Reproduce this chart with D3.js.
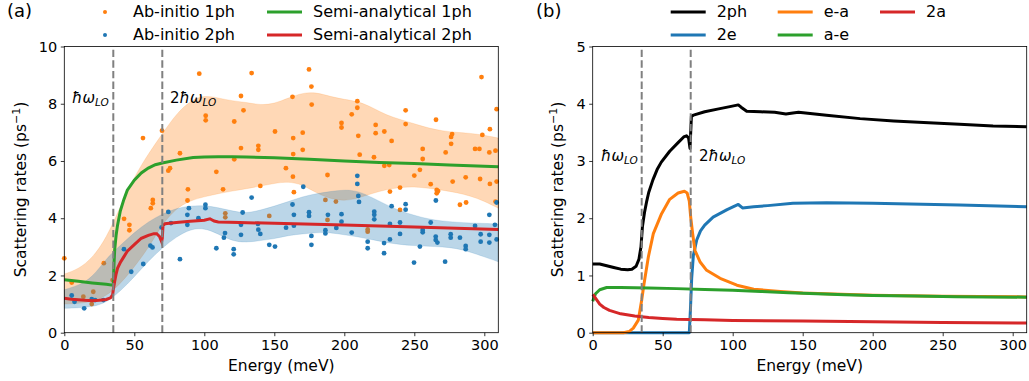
<!DOCTYPE html>
<html>
<head>
<meta charset="utf-8">
<script src="https://cdn.jsdelivr.net/npm/d3@7"></script>
<style>
  body { margin: 0; background: white; }
  svg { font-family: "DejaVu Sans", sans-serif; }
  .tick text { font-size: 14.5px; fill: #000; font-family: "DejaVu Sans", sans-serif; }
</style>
</head>
<body>
<div id="chart"></div>
<script>
// ---------- panel (a) data ----------
// scattered ab-initio points [energy meV, rate ps^-1]
const abInitio1ph = [
  [0,2.6],[5.3,1.75],[13.6,1.26],[20.7,1.43],[19.6,1.0],[28.2,2.43],[34.5,1.84],
  [42.7,3.98],[46.5,3.77],[46.5,3.58],[56.2,6.8],[61.8,4.35],[63.2,4.64],[63.2,4.52],
  [69.8,7.06],[74.3,5.66],[75.5,5.75],[82.6,6.27],[88.3,5.01],[88,4.62],[96.4,9.05],
  [101,7.58],[101,7.42],[108.6,5.62],[113.4,5.01],[115,4.17],[115,4.03],[121.4,7.38],
  [121.4,6.06],[126.2,8.27],[128,7.77],[126.2,6.45],[133.8,9.07],[138.6,6.53],[138.6,6.39],
  [140,5.13],[146.4,4.08],[150.5,7.03],[158.3,5.75],[163,8.24],[163.5,6.8],[163.5,6.24],
  [163.3,5.45],[164,4.91],[170.3,6.99],[170.3,6.39],[174.8,9.2],[176.5,8.6],[176.7,7.97],
  [186.5,4.64],[188,5.51],[188,3.94],[194,4.58],[198,7.33],[198,7.17],[205.3,7.63],
  [209.3,8.09],[209.3,7.86],[210,6.88],[211,6.22],[216.7,3.61],[216.7,3.53],[221.2,6.13],
  [222.4,7.26],[222.4,6.97],[228.6,7.03],[228.6,5.83],[232.1,5.86],[232.6,4.93],[233.8,6.7],
  [239.8,5.07],[239.8,4.29],[243.8,7.77],[243.8,7.29],[250,5.49],[254,5.69],[256,6.42],
  [256,6.07],[261.7,5.19],[265.5,7.44],[266,4.99],[266,4.87],[267,4.95],[272.4,6.3],
  [276.3,6.84],[276.3,6.6],[277,6.94],[277.4,5.28],[282.6,4.47],[286.7,5.43],[287,4.55],
  [293.4,6.42],[296.5,6.42],[297,5.37],[298,8.93],[298.6,6.91],[303.6,6.3],[304,7.11],
  [304,5.2],[308,6.36],[308.8,7.81],[308.8,5.28],[308,4.58]
];
const abInitio2ph = [
  [5.3,1.3],[7.3,1.08],[14.2,0.85],[19.6,1.17],[22,1.14],[27.9,1.14],[42.6,2.92],
  [47.8,2.13],[56.4,2.4],[61.5,3.04],[63,2.98],[69.5,3.68],[74.3,4.22],[76.2,3.83],
  [82.6,2.57],[87.9,4.12],[87.9,3.77],[89,4.35],[95.8,4.0],[100.8,4.47],[100.8,4.35],
  [108.6,2.95],[114,3.32],[114.8,3.48],[121,2.92],[121,2.74],[126.2,3.77],[126.2,3.42],
  [127.4,4.2],[133.8,4.72],[138.3,3.8],[138.6,3.6],[140,3.45],[146.4,3.07],[150.5,3.01],
  [158.4,3.67],[163,4.48],[164,4.12],[164,3.74],[170.7,5.1],[174.8,4.21],[174.8,4.08],
  [176.5,3.38],[176.5,3.07],[186.5,3.58],[186.5,3.47],[188.3,4.12],[194.3,3.66],[198,4.14],
  [198,3.88],[205.3,3.5],[209.3,5.48],[209.3,5.2],[210,4.78],[210.5,4.57],[216.7,3.18],
  [216.7,2.95],[221.4,4.23],[221.4,4.12],[221.4,3.96],[228.4,3.13],[228.4,2.78],[232.6,3.8],
  [232.6,3.26],[233.8,4.42],[239.8,3.85],[239.8,3.45],[243.8,4.49],[243.8,4.3],[249.8,2.45],
  [254,3.01],[256,3.59],[256,3.51],[261.7,3.85],[265.4,4.62],[265.3,3.36],[265.3,3.24],
  [266.5,3.15],[272,2.48],[276,3.44],[276,3.32],[282.6,3.32],[286.7,3.03],[286.7,2.92],
  [293.4,3.73],[297.4,3.44],[297.4,3.18],[303.6,4.12],[303.6,3.42],[303.6,3.15],[307.6,3.77],
  [308.8,3.26],[308.8,4.55]
];

// shaded bands (energy grid shared)
const bandE = [0,10,20,30,40,50,60,70,80,90,100,110,120,130,140,150,160,170,180,190,200,210,220,230,240,250,260,270,280,290,300,310];
const band1phHi = [2.05,2.22,2.6,3.3,4.4,5.45,6.25,6.95,7.65,8.1,8.3,8.2,8.1,8.05,7.95,8.0,8.2,8.38,8.4,8.25,8.15,8.08,7.87,7.6,7.45,7.3,7.15,7.05,7.0,6.97,6.9,6.8];
const band1phLo = [1.0,1.02,1.08,1.28,1.7,2.3,2.95,3.8,4.35,4.62,4.75,4.86,4.95,5.03,5.12,5.22,5.28,5.18,4.88,4.68,4.6,4.7,4.87,5.0,5.08,5.1,5.05,4.98,4.9,4.78,4.6,4.35];
const band2phHi = [1.5,1.65,1.92,2.6,3.05,3.5,3.88,4.15,4.35,4.43,4.45,4.37,4.25,4.17,4.28,4.42,4.58,4.75,4.86,4.93,5.0,4.95,4.72,4.47,4.25,4.1,3.97,3.9,3.86,3.83,3.82,3.8];
const band2phLo = [0.85,0.87,0.9,1.05,1.45,1.95,2.5,2.97,3.35,3.62,3.66,3.45,3.2,3.15,3.22,3.28,3.4,3.45,3.5,3.5,3.42,3.35,3.25,3.15,3.08,3.04,3.02,3.0,2.95,2.82,2.65,2.48];

// semi-analytical curves
const semi1phE = [0,10,20,30,34.5,35,35.5,36,37,38,40,42.5,45,50,55,60,65,70,80,92,100,110,120,130,150,175,200,225,250,275,300,310];
const semi1phV = [1.85,1.8,1.74,1.69,1.66,1.7,2.4,2.9,3.4,3.75,4.25,4.65,4.98,5.33,5.58,5.75,5.87,5.93,6.03,6.12,6.14,6.15,6.15,6.14,6.11,6.06,6.0,5.95,5.91,5.86,5.82,5.8];
const semi2phE = [0,5,10,15,20,25,30,33,34.5,35,36,37,38,40,42.5,45,50,55,60,64,66,68,69.5,70,70.5,72,80,90,100,104,107,110,125,150,200,250,310];
const semi2phV = [1.2,1.17,1.15,1.13,1.12,1.13,1.16,1.22,1.32,1.5,1.8,2.05,2.25,2.45,2.65,2.85,3.08,3.3,3.4,3.46,3.46,3.36,3.18,3.3,3.74,3.81,3.85,3.89,3.93,3.98,3.9,3.87,3.85,3.82,3.76,3.69,3.61];

// ---------- panel (b) data ----------
const tot2phE = [0,5,10,15,20,25,28,31,33,34.5,35.5,37,38.6,40,43,46,49,55,61,65,67,68.5,69.5,70,70.5,72,80,90,98,104,106,110,120,130,138,143,147,167,191,215,240,262,286,310];
const tot2phV = [1.2,1.2,1.17,1.14,1.11,1.1,1.11,1.16,1.28,1.5,1.85,2.1,2.3,2.45,2.67,2.85,2.98,3.17,3.32,3.42,3.44,3.4,3.22,3.5,3.78,3.8,3.86,3.91,3.95,3.98,3.94,3.87,3.86,3.85,3.82,3.84,3.85,3.8,3.74,3.7,3.67,3.64,3.61,3.6];
const twoEE = [0,69,69.8,70.7,71.9,74.3,77,80,86,96,104,107,115,125,143,167,200,262,310];
const twoEV = [0,0,0.4,0.95,1.35,1.62,1.78,1.88,2.02,2.15,2.24,2.18,2.2,2.22,2.26,2.27,2.26,2.23,2.2];
const eaE = [0,22,26,29,32.6,35,36.7,39.8,43.3,49.2,55,61,65.5,67.5,69,70,71.4,73,76.6,81.4,91,103,115,134,150,200,250,310];
const eaV = [0,0,0.02,0.08,0.22,0.57,0.86,1.33,1.73,2.08,2.33,2.44,2.47,2.44,2.3,2.02,1.73,1.44,1.24,1.09,0.95,0.83,0.76,0.72,0.695,0.655,0.635,0.625];
const aeE = [0,2,5,10,20,40,60,80,100,120,140,160,180,200,230,260,310];
const aeV = [0.55,0.68,0.75,0.79,0.79,0.78,0.77,0.755,0.74,0.72,0.7,0.68,0.665,0.65,0.64,0.63,0.62];
const twoAE = [0,1,3,5,8,12,16,20,30,40,50,60,80,100,150,200,250,310];
const twoAV = [0.67,0.64,0.57,0.5,0.44,0.39,0.36,0.33,0.29,0.265,0.25,0.235,0.225,0.215,0.205,0.19,0.18,0.17];

const xTicks = [0,50,100,150,200,250,300];
const yTicksA = [0,2,4,6,8,10];
const yTicksB = [0,1,2,3,4,5];
const thresholds = [35,70];

const C = {blue:"#1f77b4", orange:"#ff7f0e", green:"#2ca02c", red:"#d62728", black:"#000000"};

const W = 1029, H = 381;
const svg = d3.select("#chart").append("svg").attr("width", W).attr("height", H);

function zip(es, vs){ return es.map((e,i) => [e, vs[i]]); }

function makePanel(left, right, ymax, yTicks, letter, labelY){
  const x = d3.scaleLinear().domain([0,310]).range([left,right]);
  const y = d3.scaleLinear().domain([0,ymax]).range([332.7,46.5]);
  const g = svg.append("g");
  const plot = g.append("g");
  // axes
  g.append("g").attr("transform","translate(0,332.7)")
    .call(d3.axisBottom(x).tickValues(xTicks).tickFormat(d3.format("d")).tickSize(3.5).tickPadding(3.5))
    .call(a => a.select(".domain").remove())
    .attr("font-family", null).attr("font-size", null);
  g.append("g").attr("transform",`translate(${left},0)`)
    .call(d3.axisLeft(y).tickValues(yTicks).tickFormat(d3.format("d")).tickSize(3.5).tickPadding(3.5))
    .call(a => a.select(".domain").remove())
    .attr("font-family", null).attr("font-size", null);
  g.selectAll(".tick line").attr("stroke","#000").attr("stroke-width",0.8);
  g.append("rect").attr("x",left).attr("y",46.5).attr("width",right-left).attr("height",332.7-46.5)
    .attr("fill","none").attr("stroke","#000").attr("stroke-width",0.8);
  g.append("text").attr("x",(left+right)/2).attr("y",371).attr("text-anchor","middle")
    .attr("font-size",15.5).text("Energy (meV)");
  const yl = g.append("text").attr("transform",`translate(${labelY},189.5) rotate(-90)`)
    .attr("text-anchor","middle").attr("font-size",15.5);
  yl.append("tspan").text("Scattering rates (ps");
  yl.append("tspan").attr("font-size",11).attr("dy",-6).text("\u22121");
  yl.append("tspan").attr("dy",6).text(")");
  g.append("text").attr("x", letter.x).attr("y",17).attr("font-size",18).text(letter.t);
  return {x, y, plot, g};
}

function hbarLabel(g, px, py, two){
  const t = g.append("text").attr("x",px).attr("y",py).attr("font-size",15);
  if (two) t.append("tspan").text("2");
  t.append("tspan").attr("font-style","italic").text("\u0127\u03c9");
  t.append("tspan").attr("font-style","italic").attr("font-size",10.5).attr("dy",3).text("LO");
}

function dashed(p){
  thresholds.forEach(e => {
    p.plot.append("line").attr("x1",p.x(e)).attr("x2",p.x(e)).attr("y1",p.y.range()[0]).attr("y2",p.y.range()[1])
      .attr("stroke","#808080").attr("stroke-width",2).attr("stroke-dasharray","7.4,3.2");
  });
}

// ---------- panel (a) ----------
const A = makePanel(64.3, 498.3, 10, yTicksA, {x:7, t:"(a)"}, 26);
const areaA = (lo, hi) => d3.area().curve(d3.curveBasis)
  .x((d,i) => A.x(bandE[i])).y0((d,i) => A.y(lo[i])).y1((d,i) => A.y(hi[i]));
const lineA = d3.line().x(d => A.x(d[0])).y(d => A.y(d[1]));

A.plot.append("path").datum(bandE).attr("d", areaA(band1phLo, band1phHi))
  .attr("fill", C.orange).attr("fill-opacity",0.3).attr("stroke",C.orange).attr("stroke-opacity",0.15);
A.plot.selectAll(".p1").data(abInitio1ph).join("circle").attr("class","p1")
  .attr("cx", d => A.x(d[0])).attr("cy", d => A.y(d[1])).attr("r",2.4).attr("fill",C.orange);
A.plot.append("path").datum(bandE).attr("d", areaA(band2phLo, band2phHi))
  .attr("fill", C.blue).attr("fill-opacity",0.3).attr("stroke",C.blue).attr("stroke-opacity",0.15);
A.plot.selectAll(".p2").data(abInitio2ph).join("circle").attr("class","p2")
  .attr("cx", d => A.x(d[0])).attr("cy", d => A.y(d[1])).attr("r",2.4).attr("fill",C.blue);
A.plot.append("path").datum(zip(semi1phE, semi1phV)).attr("d", lineA)
  .attr("fill","none").attr("stroke",C.green).attr("stroke-width",3);
A.plot.append("path").datum(zip(semi2phE, semi2phV)).attr("d", lineA)
  .attr("fill","none").attr("stroke",C.red).attr("stroke-width",3);
dashed(A);
hbarLabel(A.g, 72, 103, false);
hbarLabel(A.g, 170, 103, true);

// legend (a)
const legA = svg.append("g").attr("font-size",16);
[[C.orange,"Ab-initio 1ph",12],[C.blue,"Ab-initio 2ph",35]].forEach(([c,t,yy]) => {
  legA.append("circle").attr("cx",105).attr("cy",yy).attr("r",2).attr("fill",c);
  legA.append("text").attr("x",133).attr("y",yy+5).text(t);
});
[[C.green,"Semi-analytical 1ph",12],[C.red,"Semi-analytical 2ph",35]].forEach(([c,t,yy]) => {
  legA.append("line").attr("x1",267).attr("x2",302).attr("y1",yy).attr("y2",yy).attr("stroke",c).attr("stroke-width",3);
  legA.append("text").attr("x",313).attr("y",yy+5).text(t);
});

// ---------- panel (b) ----------
const B = makePanel(592.7, 1026.7, 5, yTicksB, {x:536, t:"(b)"}, 563);
const lineB = d3.line().x(d => B.x(d[0])).y(d => B.y(d[1]));
const seriesB = [
  [tot2phE, tot2phV, C.black],
  [twoEE, twoEV, C.blue],
  [eaE, eaV, C.orange],
  [aeE, aeV, C.green],
  [twoAE, twoAV, C.red]
];
seriesB.forEach(([es, vs, c]) => {
  B.plot.append("path").datum(zip(es, vs)).attr("d", lineB)
    .attr("fill","none").attr("stroke",c).attr("stroke-width",3).attr("stroke-linejoin","round");
});
dashed(B);
hbarLabel(B.g, 601, 161, false);
hbarLabel(B.g, 699, 161, true);

// legend (b)
const legB = svg.append("g").attr("font-size",16);
[[C.black,"2ph",670.7,12],[C.blue,"2e",670.7,35],[C.orange,"e-a",777.7,12],[C.green,"a-e",777.7,35],[C.red,"2a",880,12]]
  .forEach(([c,t,x0,yy]) => {
    legB.append("line").attr("x1",x0).attr("x2",x0+35).attr("y1",yy).attr("y2",yy).attr("stroke",c).attr("stroke-width",3);
    legB.append("text").attr("x",x0+46).attr("y",yy+5).text(t);
  });
</script>
</body>
</html>
